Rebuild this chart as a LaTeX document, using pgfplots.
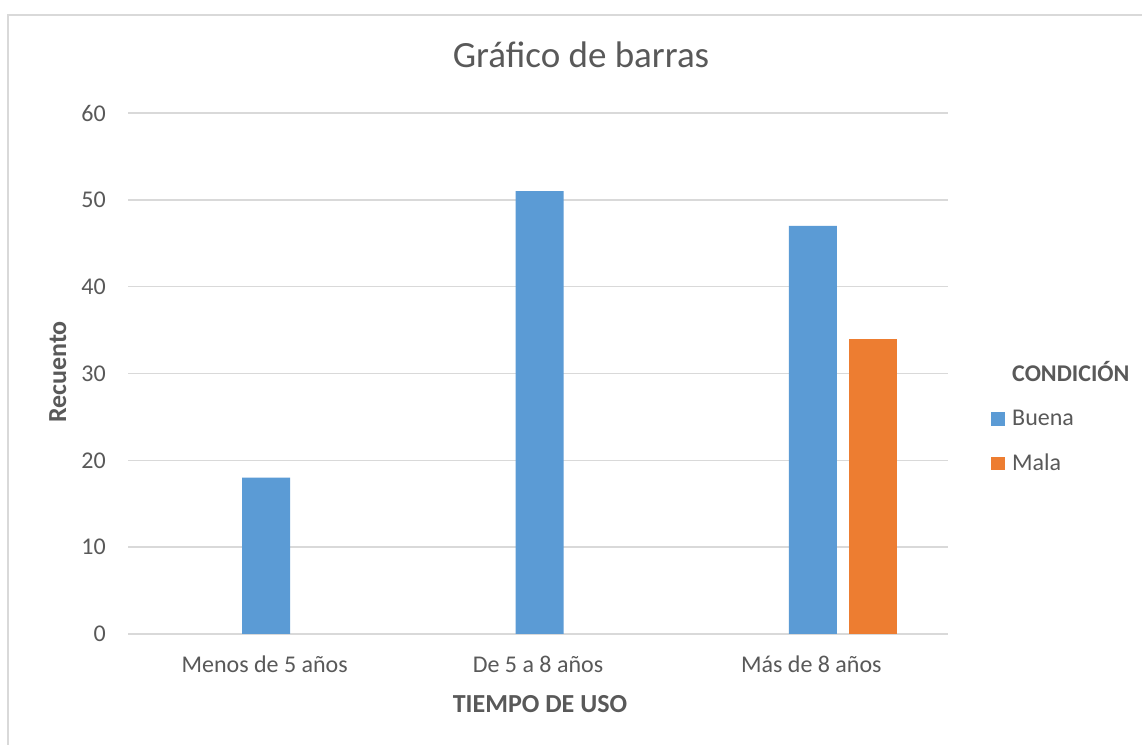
\documentclass[border=0pt]{standalone}
\usepackage{pgfplots}
\pgfplotsset{compat=1.18}
\usepackage{fontspec}
\setmainfont{Carlito}
\definecolor{txt}{HTML}{595959}
\definecolor{gridc}{HTML}{D9D9D9}
\definecolor{buena}{HTML}{5B9BD5}
\definecolor{mala}{HTML}{ED7D31}
\pgfplotsset{sqlegend/.style={legend image code/.code={\fill[##1] (0bp,0bp) rectangle (14bp,13.5bp);}}}
\begin{document}
\begin{tikzpicture}[x=1bp,y=1bp]
\useasboundingbox (0,0) rectangle (1142,745);
\fill[white] (0,0) rectangle (1142,745);
\draw[gridc, line width=1.5bp] (8,-10) rectangle (1160,730);
\begin{axis}[
  at={(128bp,111bp)}, anchor=south west,
  width=820bp, height=521bp, scale only axis,
  xmin=-0.5, xmax=2.5, ymin=0, ymax=60,
  ytick={0,10,...,60}, xtick={0,1,2},
  xticklabels={Menos de 5 años, De 5 a 8 años, Más de 8 años},
  ymajorgrids, grid style={gridc, line width=1.5bp},
  axis line style={draw=none},
  major tick length=0pt,
  tick label style={font=\fontsize{24bp}{28bp}\selectfont, text=txt, inner sep=0pt},
  /pgf/number format/assume math mode=true,
  yticklabel style={anchor=east, xshift=-22bp},
  xticklabel style={anchor=base, yshift=-39bp},
  legend style={draw=none, fill=none, at={(1.05244,0.5182)}, anchor=north west,
    inner sep=0pt, column sep=7bp, row sep=22.5bp,
    font=\fontsize{24bp}{28bp}\selectfont, text=txt,
    nodes={inner sep=0pt, text height=17bp, text depth=5bp}},
  legend cell align=left,
  legend style={cells={anchor=base west}},
]
\addlegendimage{empty legend}
\addlegendentry{\textbf{CONDICIÓN}}
\addplot[ybar, bar width=48bp, bar shift=1.5bp, fill=buena, draw=none, sqlegend]
  coordinates {(0,18) (1,51) (2,47)};
\addlegendentry{Buena}
\addplot[ybar, bar width=48bp, bar shift=62bp, fill=mala, draw=none, sqlegend]
  coordinates {(2,34)};
\addlegendentry{Mala}
\end{axis}
\node[anchor=base, inner sep=0pt, font=\fontsize{37bp}{42bp}\selectfont, text=txt] at (581,677) {Gráfico de barras};
\node[anchor=base, inner sep=0pt, font=\bfseries\fontsize{26bp}{30bp}\selectfont, text=txt] at (540,32) {TIEMPO DE USO};
\node[anchor=base, inner sep=0pt, rotate=90, font=\bfseries\fontsize{26bp}{30bp}\selectfont, text=txt] at (66,373) {Recuento};
\end{tikzpicture}
\end{document}
